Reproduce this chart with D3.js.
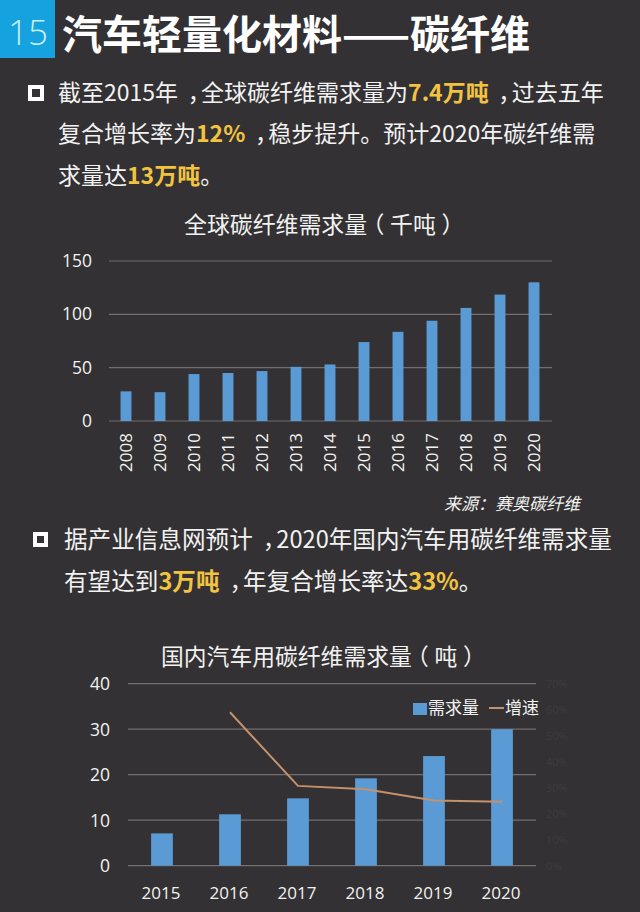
<!DOCTYPE html>
<html>
<head>
<meta charset="utf-8">
<script src="https://cdn.jsdelivr.net/npm/d3@7"></script>
<style>
  html, body { margin: 0; padding: 0; background: #333133; }
  svg { display: block; }
  text { font-family: "Noto Sans CJK SC", "Open Sans", sans-serif; fill: #f2f2f2; }
  .half { font-feature-settings: "halt"; }
</style>
</head>
<body>
<div id="chart"></div>
<script>
// global demand (kt)
const years1 = ['2008','2009','2010','2011','2012','2013','2014','2015','2016','2017','2018','2019','2020'];
const demand1 = [27.8, 27, 44, 45, 46.8, 50.8, 53, 74, 83.6, 94, 106, 118.5, 130];
const ticks1 = [0, 50, 100, 150];

// domestic automotive demand + growth (growth sits on a hidden-looking right axis)
const years2 = ['2015','2016','2017','2018','2019','2020'];
const demand2 = [7.1, 11.3, 14.8, 19.2, 24.1, 30];
const growth2 = [null, 59, 30.7, 29.4, 25.1, 24.6];
const ticks2 = [0, 10, 20, 30, 40];
const ticksG = [0, 10, 20, 30, 40, 50, 60, 70];

const BLUE = '#5b9bd5', GRID = '#716f71', GOLD = '#f2c341', LINE = '#c3926c';

const svg = d3.select('#chart').append('svg').attr('width', 640).attr('height', 912);

// header
svg.append('rect').attr('x', 0).attr('y', 0).attr('width', 55).attr('height', 58).attr('fill', '#16a2de');
svg.append('text').attr('x', 28).attr('y', 45).attr('text-anchor', 'middle')
   .attr('font-size', 35).attr('font-weight', 300).style('font-family', '"Open Sans"').style('fill', '#c4f2f5').text('15');
svg.append('text').attr('x', 62).attr('y', 49).attr('font-size', 40).attr('font-weight', 700)
   .style('fill', '#fff').text('汽车轻量化材料——碳纤维');

// the comma in the original sits further right in its box than in this font,
// so it is set half width and pushed along
function para(x, y, size, parts) {
  const t = svg.append('text').attr('x', x).attr('y', y).attr('font-size', size);
  let after = 0;
  parts.forEach(p => {
    const hi = p[0] === '*';
    (hi ? p.slice(1) : p).split(/(，)/).filter(s => s).forEach(s => {
      const comma = s === '，';
      t.append('tspan').text(s)
       .attr('class', comma ? 'half' : null)
       .attr('dx', comma ? size * 0.42 : after)
       .attr('font-weight', hi ? 700 : 400)
       .style('fill', hi ? GOLD : '#f2f2f2');
      after = comma ? size * 0.08 : 0;
    });
  });
}
function bullet(x, y, s) {
  svg.append('rect').attr('x', x).attr('y', y).attr('width', s).attr('height', s)
     .attr('fill', 'none').attr('stroke', '#fff').attr('stroke-width', 4);
}
// chart title, with half width brackets centred in their boxes
function chartTitle(x, y, size, name, unit) {
  const t = svg.append('text').attr('x', x).attr('y', y).attr('font-size', size);
  const s = size * 0.25;
  t.append('tspan').text(name);
  t.append('tspan').attr('class', 'half').attr('dx', s).text('（');
  t.append('tspan').attr('dx', s).text(unit);
  t.append('tspan').attr('class', 'half').attr('dx', s).text('）');
}

bullet(30, 87, 12);
para(58, 101, 23, ['截至2015年，全球碳纤维需求量为', '*7.4万吨', '，过去五年']);
para(58, 142, 23, ['复合增长率为', '*12%', '，稳步提升。预计2020年碳纤维需']);
para(58, 184, 23, ['求量达', '*13万吨', '。']);

bullet(35, 534, 11);
para(64, 548, 23.6, ['据产业信息网预计，2020年国内汽车用碳纤维需求量']);
para(64, 590, 23.6, ['有望达到', '*3万吨', '，年复合增长率达', '*33%', '。']);

// chart 1
const x1 = d3.scaleBand().domain(years1).range([109, 551]).paddingInner(0.68).paddingOuter(0.34);
const y1 = d3.scaleLinear().domain([0, 150]).range([421, 261]);

chartTitle(184, 233, 22.9, '全球碳纤维需求量', '千吨');

const g1 = svg.append('g');
g1.append('g').selectAll('line').data(ticks1).join('line')
  .attr('x1', 109).attr('x2', 552)
  .attr('y1', d => y1(d)).attr('y2', d => y1(d))
  .attr('stroke', GRID).attr('stroke-width', 1.2);
g1.append('g').selectAll('rect').data(years1).join('rect')
  .attr('x', d => x1(d)).attr('width', x1.bandwidth())
  .attr('y', (d, i) => y1(demand1[i]))
  .attr('height', (d, i) => y1(0) - y1(demand1[i]))
  .attr('fill', BLUE);
g1.append('g').selectAll('text').data(ticks1).join('text')
  .attr('x', 92).attr('y', d => y1(d) + 6).attr('text-anchor', 'end')
  .attr('font-size', 17.5).style('font-family', '"Open Sans"').text(d => d);
g1.append('g').selectAll('text').data(years1).join('text')
  .attr('transform', d => `translate(${x1(d) + x1.bandwidth() / 2 + 6},472) rotate(-90)`)
  .attr('font-size', 17).style('font-family', '"Open Sans"').text(d => d);

svg.append('text').attr('x', 444).attr('y', 510).attr('font-size', 17)
   .attr('font-style', 'italic').text('来源：赛奥碳纤维');

// chart 2
const x2 = d3.scaleBand().domain(years2).range([128, 536]).paddingInner(0.68).paddingOuter(0.34);
const y2 = d3.scaleLinear().domain([0, 40]).range([865.7, 683.7]);
const yG = d3.scaleLinear().domain([0, 70]).range([865.7, 683.7]);

chartTitle(161, 665, 22.8, '国内汽车用碳纤维需求量', '吨');

const g2 = svg.append('g');
g2.append('g').selectAll('line').data(ticks2).join('line')
  .attr('x1', 128).attr('x2', 536)
  .attr('y1', d => y2(d)).attr('y2', d => y2(d))
  .attr('stroke', GRID).attr('stroke-width', 1.2);
g2.append('g').selectAll('rect').data(years2).join('rect')
  .attr('x', d => x2(d)).attr('width', x2.bandwidth())
  .attr('y', (d, i) => y2(demand2[i]))
  .attr('height', (d, i) => y2(0) - y2(demand2[i]))
  .attr('fill', BLUE);

const growthLine = d3.line()
  .defined(d => d.v !== null)
  .x(d => x2(d.y) + x2.bandwidth() / 2)
  .y(d => yG(d.v));
g2.append('path')
  .attr('d', growthLine(years2.map((y, i) => ({ y, v: growth2[i] }))))
  .attr('fill', 'none').attr('stroke', LINE).attr('stroke-width', 2);

g2.append('g').selectAll('text').data(ticks2).join('text')
  .attr('x', 110).attr('y', d => y2(d) + 6.5).attr('text-anchor', 'end')
  .attr('font-size', 17.5).style('font-family', '"Open Sans"').text(d => d);
g2.append('g').selectAll('text').data(years2).join('text')
  .attr('x', d => x2(d) + x2.bandwidth() / 2 - 1).attr('y', 899).attr('text-anchor', 'middle')
  .attr('font-size', 17).style('font-family', '"Open Sans"').text(d => d);

// right axis labels are almost erased in the picture
g2.append('g').selectAll('text').data(ticksG).join('text')
  .attr('x', 546).attr('y', d => yG(d) + 4)
  .attr('font-size', 11).style('font-family', '"Open Sans"').style('fill', '#3e3c3e')
  .text(d => d + '%');

// legend
svg.append('rect').attr('x', 413).attr('y', 703).attr('width', 14).attr('height', 12).attr('fill', BLUE);
svg.append('text').attr('x', 428).attr('y', 714).attr('font-size', 17).text('需求量');
svg.append('line').attr('x1', 489).attr('x2', 504).attr('y1', 708).attr('y2', 708)
   .attr('stroke', LINE).attr('stroke-width', 2);
svg.append('text').attr('x', 505).attr('y', 714).attr('font-size', 17).text('增速');
</script>
</body>
</html>
